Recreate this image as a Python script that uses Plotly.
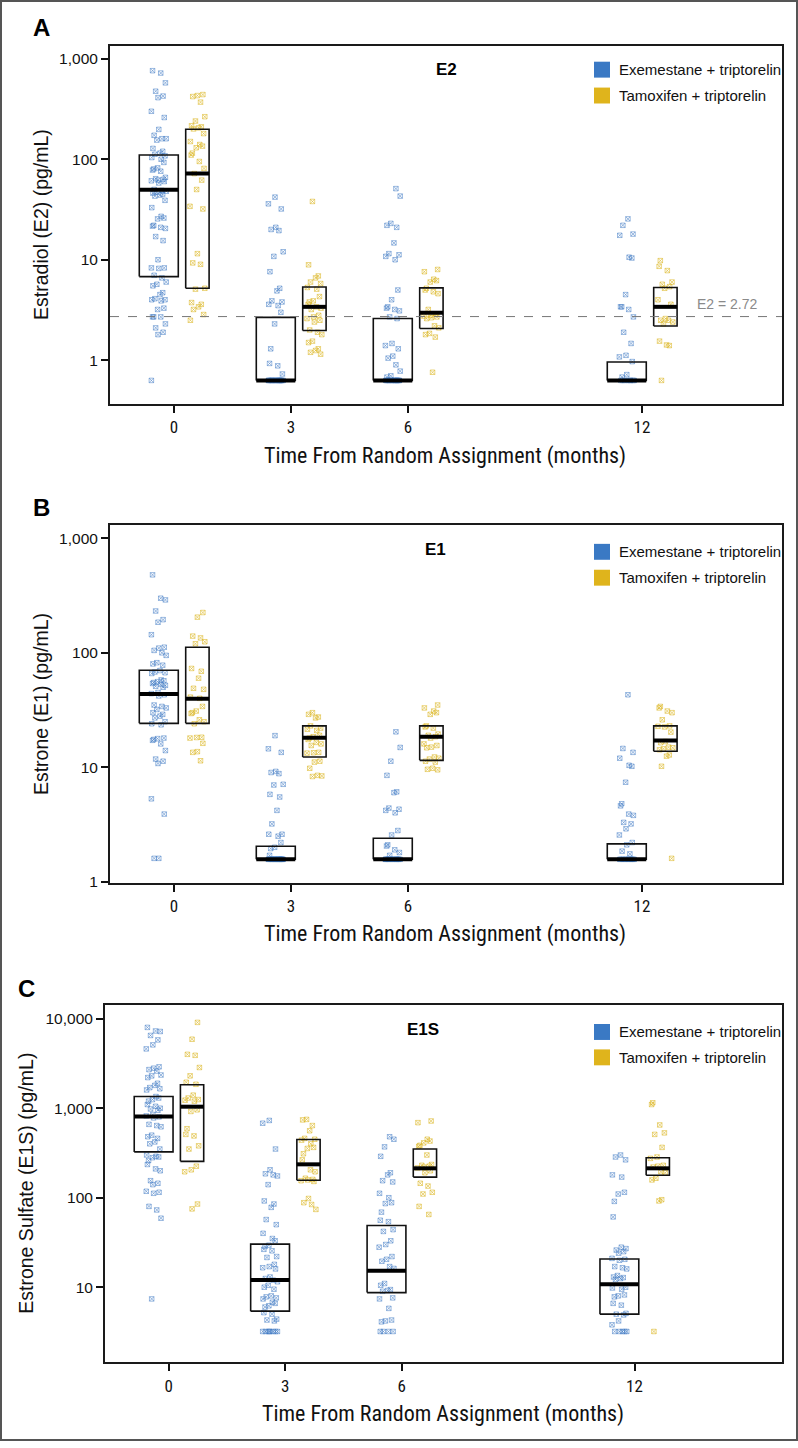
import math
import plotly.graph_objects as go

W, H = 798, 1448

# ---------------- data ----------------
TIMES = [0, 3, 6, 12]
TIME_LABELS = ["0", "3", "6", "12"]
ARM_NAMES = ["Exemestane + triptorelin", "Tamoxifen + triptorelin"]

# box stats [q1, median, q3] per time point
E2_EXE_BOX = [[6.8, 49.7, 110], [0.63, 0.63, 2.67], [0.63, 0.63, 2.6], [0.63, 0.63, 0.96]]
E2_TAM_BOX = [[5.2, 72, 199], [1.98, 3.4, 5.36], [2.07, 2.97, 5.25], [2.19, 3.4, 5.3]]
E1_EXE_BOX = [[24.2, 43.6, 70.5], [1.57, 1.57, 2.04], [1.57, 1.57, 2.4], [1.57, 1.57, 2.14]]
E1_TAM_BOX = [[24.2, 39.6, 112], [12.3, 18.1, 23], [11.5, 18.5, 23], [13.8, 17.1, 23]]
E1S_EXE_BOX = [[325, 810, 1350], [5.4, 12, 30.3], [8.7, 15.3, 49], [5.0, 10.8, 20.7]]
E1S_TAM_BOX = [[255, 1040, 1830], [157, 236, 447], [170, 213, 350], [178, 213, 280]]

# individual measurements (pg/mL)
E2_EXE_0 = [760, 720, 575, 475, 425, 410, 300, 260, 198, 173, 160, 160, 155, 128, 120, 115, 112, 108,
            104, 100, 93, 82, 80, 78, 76, 66, 64, 63, 62, 61, 60, 58, 50, 49, 48, 47, 46, 45, 44, 43,
            39, 33, 27, 26, 25.5, 22, 21.6, 21, 20.5, 17, 15.5, 10, 8.3, 8.3, 8.2, 7, 6.6, 6, 5.7, 5.5,
            4.7, 4.5, 4.1, 4.0, 4.0, 3.9, 3.3, 3.2, 2.7, 2.7, 2.7, 2.3, 2.1, 1.9, 1.8, 0.63]
E2_EXE_3 = [42, 36, 32, 21, 20, 19.5, 12, 10.8, 7.6, 5.2, 4.9, 3.9, 3.8, 3.6, 3.5, 3.0, 2.3, 1.3, 0.93,
            0.88, 0.73, 0.63, 0.63, 0.63, 0.63, 0.63, 0.63, 0.63, 0.63, 0.63, 0.63, 0.63, 0.63, 0.63,
            0.63, 0.63, 0.63, 0.63, 0.63]
E2_EXE_6 = [51, 43, 23, 22, 21, 14.7, 11.5, 11.2, 10.8, 10, 5, 4, 3.4, 3.3, 3.2, 3.1, 2.7, 2.6, 1.47,
            1.4, 1.3, 1.1, 1.05, 0.9, 0.78, 0.7, 0.68, 0.63, 0.63, 0.63, 0.63, 0.63, 0.63, 0.63, 0.63,
            0.63, 0.63, 0.63, 0.63, 0.63, 0.63, 0.63]
E2_EXE_12 = [25.5, 22, 18, 17.5, 10.6, 10.4, 4.5, 3.4, 3.4, 3.2, 2.7, 1.9, 1.47, 1.12, 1.08, 0.97, 0.72,
             0.68, 0.63, 0.63, 0.63, 0.63, 0.63, 0.63, 0.63, 0.63]
E2_TAM_0 = [440, 430, 420, 370, 265, 240, 215, 210, 205, 200, 180, 150, 140, 135, 130, 115, 110, 95, 81,
            72, 62, 50, 34, 32, 11.5, 9.3, 9.0, 5.2, 5.1, 3.75, 3.6, 3.4, 3.2, 2.85, 2.5]
E2_TAM_3 = [38, 8.9, 6.9, 6.6, 6.0, 5.8, 5.3, 5.1, 4.3, 3.9, 3.8, 3.6, 3.4, 3.3, 3.2, 2.8, 2.7, 2.6, 2.5,
            2.4, 2.0, 1.9, 1.8, 1.55, 1.5, 1.3, 1.25, 1.2, 1.15]
E2_TAM_6 = [8.0, 7.6, 6.4, 6.2, 6.0, 5.2, 5.0, 4.8, 4.6, 3.2, 2.9, 2.8, 2.75, 2.7, 2.65, 2.6, 2.2, 2.1,
            1.85, 1.8, 1.7, 0.76]
E2_TAM_12 = [9.8, 8.6, 7.8, 6.0, 5.7, 5.4, 5.2, 4.0, 3.6, 2.6, 2.5, 2.5, 2.4, 2.3, 1.55, 1.4, 1.42, 0.63]

E1_EXE_0 = [480, 300, 290, 232, 195, 185, 144, 112, 110, 105, 100, 95, 82, 80, 78, 70, 68, 67, 66, 58,
            57, 56, 55, 54, 53, 52, 51, 50, 45, 44, 43, 42, 35, 34, 33, 32, 30, 29, 28, 27, 25, 24,
            23.5, 18, 17.8, 17.5, 17.2, 16, 14, 11.8, 11.3, 10.8, 5.3, 3.9, 1.6, 1.6]
E1_EXE_3 = [18.9, 14.5, 13.5, 9.2, 9.0, 8.8, 7.1, 7.0, 5.8, 5.5, 4.2, 3.2, 2.6, 2.6, 2.5, 2.2, 2.0,
            1.95, 1.7, 1.57, 1.57, 1.57, 1.57, 1.57, 1.57, 1.57, 1.57, 1.57, 1.57, 1.57, 1.57, 1.57,
            1.57, 1.57, 1.57, 1.57, 1.57, 1.57, 1.57, 1.57]
E1_EXE_6 = [20.4, 14.9, 11.3, 8.5, 6.1, 6.0, 4.4, 4.3, 4.2, 4.0, 2.8, 2.56, 2.1, 2.05, 1.9, 1.8, 1.7,
            1.57, 1.57, 1.57, 1.57, 1.57, 1.57, 1.57, 1.57, 1.57, 1.57, 1.57, 1.57, 1.57, 1.57, 1.57]
E1_EXE_12 = [43, 14.6, 13.5, 12, 10.4, 10.2, 7.4, 4.8, 4.6, 3.9, 3.8, 3.3, 3.2, 2.9, 2.56, 2.2, 2.1,
             1.85, 1.75, 1.57, 1.57, 1.57, 1.57, 1.57, 1.57, 1.57, 1.57, 1.57, 1.57, 1.57]
E1_TAM_0 = [225, 205, 140, 135, 125, 120, 73, 69, 60, 49, 48, 41, 40, 34, 31, 30, 29.5, 26, 25, 24,
            18.3, 18.2, 18.0, 16.2, 13.7, 13.5, 11.4]
E1_TAM_3 = [30, 29, 27.5, 27, 23, 22, 21.5, 21, 19, 18.5, 18, 17.5, 16.5, 16, 15.5, 13.5, 13.4, 13.3,
            11.3, 11.1, 9.8, 8.5, 8.4, 8.3]
E1_TAM_6 = [35, 33, 31, 30, 29, 23, 22.5, 22, 19.5, 19, 18.5, 18, 16, 15.5, 15, 14.8, 12.3, 12, 11.8,
            11.3, 11.1, 9.8, 9.6, 9.5]
E1_TAM_12 = [34, 33, 31, 30, 26, 23, 22.5, 22.8, 20.3, 16.8, 16.4, 15, 14.8, 14.5, 14.2, 12.8, 12.5,
             10.2, 1.6]

E1S_EXE_0 = [8000, 7300, 7200, 6500, 5800, 5100, 4600, 2900, 2800, 2700, 2600, 2350, 2300, 2200, 1900,
             1800, 1700, 1650, 1600, 1350, 1300, 1250, 1200, 1100, 1050, 1000, 980, 950, 850, 820, 800,
             780, 660, 640, 620, 500, 480, 460, 420, 400, 350, 300, 290, 285, 280, 260, 235, 210, 200,
             155, 145, 140, 118, 115, 112, 80, 73, 59, 7.4]
E1S_EXE_3 = [730, 680, 350, 205, 185, 180, 175, 140, 92, 85, 78, 57, 50, 40, 35, 33, 29.5, 28.5, 26.5,
             25.5, 22, 21.5, 18, 17, 16.5, 16, 13, 12.5, 12, 11.5, 10.5, 10, 9.5, 8, 7.8, 7.6, 7.4, 6.8,
             6.6, 6.2, 6.0, 5.2, 5.0, 4.4, 4.3, 4.2, 3.2, 3.2, 3.2, 3.2, 3.2, 3.2, 3.2, 3.2]
E1S_EXE_6 = [480, 450, 370, 290, 190, 180, 155, 150, 112, 100, 88, 86, 69, 56, 54, 44, 42, 33, 30, 28,
             22, 20.5, 19.5, 17, 16.2, 11, 10.5, 9.4, 9.2, 9.0, 7.6, 7.4, 5.8, 4.3, 4.2, 4.1, 3.2, 3.2,
             3.2, 3.2]
E1S_EXE_12 = [300, 285, 265, 180, 170, 115, 110, 91, 61, 28, 27, 26, 25, 24, 21, 20.5, 20, 17, 16.5,
              16, 13.5, 13, 12.8, 12.5, 12.2, 10, 9.8, 9.5, 8.2, 8, 7.8, 6.6, 6.3, 5.1, 5.0, 4.9, 4.2,
              3.8, 3.2, 3.2, 3.2, 3.2, 3.2]
E1S_TAM_0 = [9100, 5900, 4000, 3900, 2850, 2300, 1950, 1850, 1400, 1300, 1250, 1230, 1200, 960, 920,
             590, 510, 490, 380, 350, 225, 205, 195, 85, 75]
E1S_TAM_3 = [750, 740, 640, 560, 460, 450, 440, 400, 365, 355, 310, 265, 205, 195, 165, 160, 158, 155,
             152, 98, 88, 84, 74]
E1S_TAM_6 = [720, 690, 450, 430, 410, 385, 375, 300, 235, 230, 225, 220, 215, 200, 190, 145, 135, 115,
             110, 80, 65]
E1S_TAM_12 = [1150, 1100, 650, 530, 510, 365, 285, 275, 230, 225, 220, 195, 190, 165, 158, 95, 92, 3.2]

E2_THRESHOLD = 2.72

# horizontal jitter (months) read as the spread of the point clouds
JITTER = [-0.16, 0.05, 0.17, -0.08, 0.11, -0.02, -0.19, 0.14, 0.0, -0.12, 0.08, 0.19, -0.05, -0.15,
          0.1, 0.03, -0.1, 0.16, -0.18, 0.06, 0.13, -0.03, -0.13]

# ---------------- styling / geometry ----------------
ARM_OFFSET = [-0.39, 0.60]
ARM_BOXW = [1.0, 0.6]
MARKER_COLORS = ["rgba(60,120,195,0.5)", "rgba(218,180,30,0.55)"]
LEGEND_COLORS = ["#3a79c4", "#dfb41c"]
SANS = "Liberation Sans, Arial, Helvetica, sans-serif"
NARROW = "Liberation Sans Narrow, Arial Narrow, Roboto Condensed, Liberation Sans, sans-serif"

PANELS = [
    dict(letter="A", title="E2", ytitle="Estradiol (E2) (pg/mL)",
         pts=[[E2_EXE_0, E2_EXE_3, E2_EXE_6, E2_EXE_12], [E2_TAM_0, E2_TAM_3, E2_TAM_6, E2_TAM_12]],
         box=[E2_EXE_BOX, E2_TAM_BOX],
         rect=(110, 46, 782, 406), yr=(-0.4356, 3.1287), xr=(-1.641, 15.59),
         yt=[1, 10, 100, 1000], ytt=["1", "10", "100", "1,000"],
         letter_xy=(41, 28), title_xy=(446, 70), leg_y=(70, 96), ytitle_x=41, xtitle_x=445),
    dict(letter="B", title="E1", ytitle="Estrone (E1) (pg/mL)",
         pts=[[E1_EXE_0, E1_EXE_3, E1_EXE_6, E1_EXE_12], [E1_TAM_0, E1_TAM_3, E1_TAM_6, E1_TAM_12]],
         box=[E1_EXE_BOX, E1_TAM_BOX],
         rect=(110, 528, 782, 887), yr=(-0.0087, 3.113), xr=(-1.641, 15.59),
         yt=[1, 10, 100, 1000], ytt=["1", "10", "100", "1,000"],
         letter_xy=(41, 510), title_xy=(435, 552), leg_y=(554.5, 580.5), ytitle_x=41, xtitle_x=445),
    dict(letter="C", title="E1S", ytitle="Estrone Sulfate (E1S) (pg/mL)",
         pts=[[E1S_EXE_0, E1S_EXE_3, E1S_EXE_6, E1S_EXE_12],
              [E1S_TAM_0, E1S_TAM_3, E1S_TAM_6, E1S_TAM_12]],
         box=[E1S_EXE_BOX, E1S_TAM_BOX],
         rect=(105, 1010, 782, 1369), yr=(0.16, 4.152), xr=(-1.643, 15.8),
         yt=[10, 100, 1000, 10000], ytt=["10", "100", "1,000", "10,000"],
         letter_xy=(26, 993), title_xy=(423, 1034), leg_y=(1037, 1062.5), ytitle_x=26, xtitle_x=443),
]


def px(x):
    return x / W


def py(y):
    return 1 - y / H


fig = go.Figure()
layout = dict(width=W, height=H, margin=dict(l=0, r=0, t=0, b=0), paper_bgcolor="white",
              plot_bgcolor="white", showlegend=False, annotations=[], shapes=[])


def note(x, y, text, font, xanchor="center", yanchor="middle", **kw):
    d = dict(x=px(x), y=py(y), xref="paper", yref="paper", text=text, showarrow=False,
             xanchor=xanchor, yanchor=yanchor, font=font)
    d.update(kw)
    layout["annotations"].append(d)


for i, p in enumerate(PANELS):
    n = "" if i == 0 else str(i + 1)
    xa, ya = "x" + n, "y" + n
    x0p, y0p, x1p, y1p = p["rect"]

    for arm in range(2):
        xs, ys = [], []
        for ti, t in enumerate(TIMES):
            vals = p["pts"][arm][ti]
            c = t + ARM_OFFSET[arm]
            for k, v in enumerate(vals):
                xs.append(c + JITTER[(k + 5 * ti + 7 * arm) % len(JITTER)])
                ys.append(v)
        fig.add_trace(go.Scatter(x=xs, y=ys, mode="markers", xaxis=xa, yaxis=ya,
                                 marker=dict(symbol="square-x-open", size=4.5,
                                             color=MARKER_COLORS[arm], line=dict(width=1)),
                                 hoverinfo="skip", name=ARM_NAMES[arm]))

    for arm in range(2):
        for ti, t in enumerate(TIMES):
            q1, med, q3 = p["box"][arm][ti]
            c = t + ARM_OFFSET[arm]
            a, b = c - ARM_BOXW[arm] / 2, c + ARM_BOXW[arm] / 2
            fig.add_trace(go.Scatter(x=[a, b, b, a, a], y=[q1, q1, q3, q3, q1], mode="lines",
                                     xaxis=xa, yaxis=ya, line=dict(color="#111111", width=1.6),
                                     hoverinfo="skip"))
            fig.add_trace(go.Scatter(x=[a, b], y=[med, med], mode="lines", xaxis=xa, yaxis=ya,
                                     line=dict(color="#000000", width=4), hoverinfo="skip"))

    if i == 0:
        fig.add_trace(go.Scatter(x=list(p["xr"]), y=[E2_THRESHOLD, E2_THRESHOLD], mode="lines",
                                 xaxis=xa, yaxis=ya, hoverinfo="skip",
                                 line=dict(color="#777777", width=1, dash="dash")))
        layout["annotations"].append(dict(
            x=14.2, y=math.log10(E2_THRESHOLD), xref=xa, yref=ya, text="E2 = 2.72",
            showarrow=False, xanchor="center", yanchor="bottom", yshift=3,
            font=dict(family=SANS, size=14, color="#8a8a8a")))

    layout["xaxis" + n] = dict(
        domain=[px(x0p), px(x1p)], range=list(p["xr"]), anchor=ya,
        tickvals=TIMES, ticktext=TIME_LABELS, ticks="outside", ticklen=7, tickwidth=1.5,
        tickcolor="#111", showline=True, mirror=True, linewidth=2, linecolor="#1a1a1a",
        showgrid=False, zeroline=False, tickfont=dict(family=NARROW, size=17, color="#111"))
    layout["yaxis" + n] = dict(
        domain=[py(y1p), py(y0p)], type="log", range=list(p["yr"]), anchor=xa,
        tickvals=p["yt"], ticktext=p["ytt"], ticks="outside", ticklen=7, tickwidth=1.5,
        tickcolor="#111", showline=True, mirror=True, linewidth=2, linecolor="#1a1a1a",
        showgrid=False, zeroline=False, tickfont=dict(family=SANS, size=15.5, color="#111"))

    note(p["letter_xy"][0], p["letter_xy"][1], "<b>%s</b>" % p["letter"],
         dict(family=SANS, size=24, color="#000"))
    note(p["title_xy"][0], p["title_xy"][1], "<b>%s</b>" % p["title"],
         dict(family=SANS, size=17, color="#000"))
    note(p["ytitle_x"], (y0p + y1p) / 2, p["ytitle"], dict(family=SANS, size=19.5, color="#111"),
         textangle=-90)
    note(p["xtitle_x"], y1p + 52, "Time From Random Assignment (months)",
         dict(family=NARROW, size=22, color="#111"))
    for arm in range(2):
        cy = p["leg_y"][arm]
        layout["shapes"].append(dict(type="rect", xref="paper", yref="paper",
                                     x0=px(594), x1=px(610), y0=py(cy + 8), y1=py(cy - 8),
                                     fillcolor=LEGEND_COLORS[arm], line=dict(width=0)))
        note(617, cy, ARM_NAMES[arm], dict(family=SANS, size=15, color="#111"), xanchor="left")

layout["shapes"].append(dict(type="rect", xref="paper", yref="paper", x0=px(1), x1=px(W - 1),
                             y0=py(H - 1), y1=py(1), line=dict(color="#555555", width=2)))

fig.update_layout(**layout)
fig.write_html("out.html", config={"displayModeBar": False},
               post_script="document.body.style.margin='0px';")
